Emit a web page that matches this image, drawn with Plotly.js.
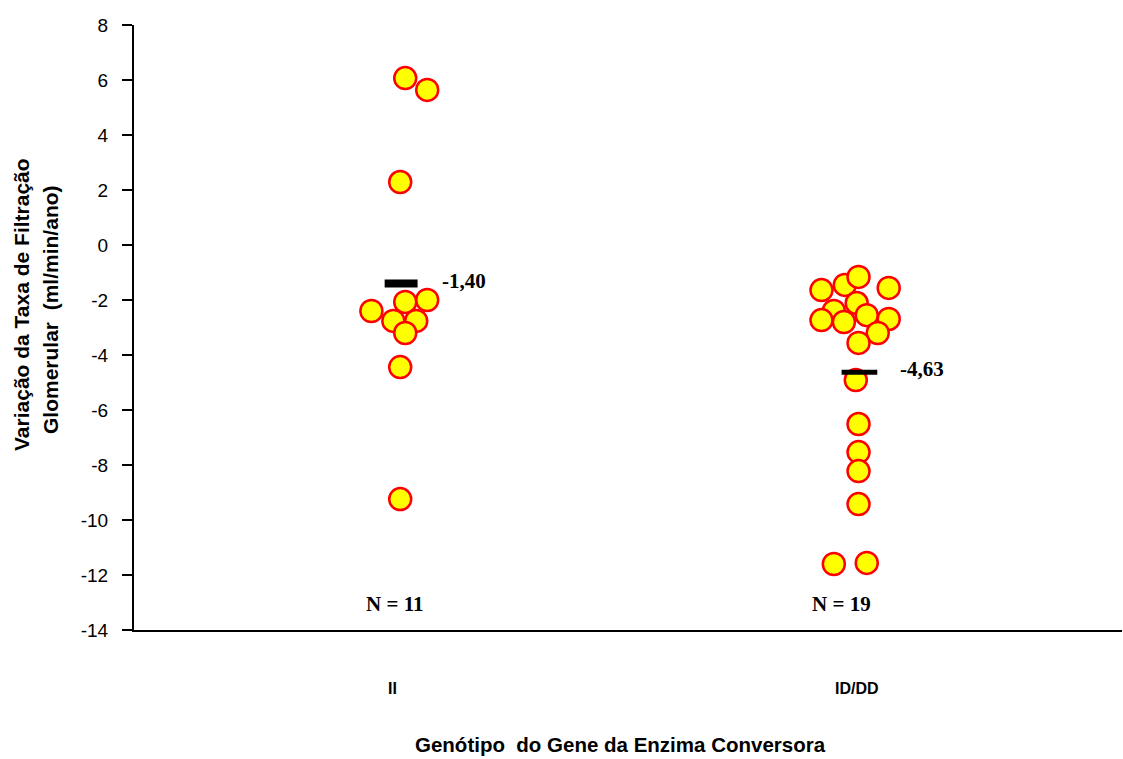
<!DOCTYPE html>
<html>
<head>
<meta charset="utf-8">
<script src="https://cdn.plot.ly/plotly-3.0.1.min.js"></script>
<style>html,body{margin:0;padding:0;background:#fff;}#chart{width:1123px;height:759px;}</style>
</head>
<body>
<div id="chart"></div>
<script>
const categories = ['II', 'ID/DD'];
const iiValues = [6.07, 5.64, 2.29, -2.40, -2.07, -2.00, -2.76, -2.76, -3.20, -4.44, -9.24];
const iiJitter = [0.013, 0.061, 0.002, -0.061, 0.013, 0.061, -0.013, 0.037, 0.013, 0.002, 0.002];
const idddValues = [-1.64, -1.45, -1.16, -1.56, -2.40, -2.11, -2.80, -2.55, -2.73, -2.69, -3.20, -3.56, -4.91, -6.51, -7.53, -8.22, -9.42, -11.60, -11.56];
const idddJitter = [-0.077, -0.026, 0.004, 0.070, -0.050, 0.000, -0.028, 0.022, -0.077, 0.070, 0.046, 0.004, -0.002, 0.004, 0.004, 0.004, 0.004, -0.050, 0.022];
const means = [-1.40, -4.63];
const meanLabels = ['-1,40', '-4,63'];
const nLabels = ['N = 11', 'N = 19'];
const yTicks = [8, 6, 4, 2, 0, -2, -4, -6, -8, -10, -12, -14];

const groups = [
  {values: iiValues, jitter: iiJitter},
  {values: idddValues, jitter: idddJitter}
];

const traces = [];
groups.forEach((g, i) => {
  traces.push({
    type: 'scatter', mode: 'markers',
    x: g.values.map((v, k) => (i + 1) + g.jitter[k]),
    y: g.values,
    marker: {size: 22, color: '#ffff00', line: {color: '#ff0000', width: 2.5}},
    hoverinfo: 'y', showlegend: false
  });
});
const barHalf = [0.036, 0.039];
const barShift = [0.004, 0.006];
const barWidth = [8, 5];
means.forEach((m, i) => {
  const c = i + 1 + barShift[i];
  traces.push({
    type: 'scatter', mode: 'lines',
    x: [c - barHalf[i], c + barHalf[i]],
    y: [m, m],
    line: {color: '#000', width: barWidth[i]},
    hoverinfo: 'skip', showlegend: false
  });
});

const serif = 'Liberation Serif, Times New Roman, serif';
const sans = 'Liberation Sans, Arial, sans-serif';
const annotations = [];
means.forEach((m, i) => {
  annotations.push({
    x: i + 1 + 0.09, y: m, xref: 'x', yref: 'y', text: '<b>' + meanLabels[i] + '</b>',
    showarrow: false, xanchor: 'left', yanchor: 'middle', yshift: 3,
    font: {family: serif, size: 21, color: '#000'}
  });
});
const nShift = [-5, -15];
nLabels.forEach((t, i) => {
  annotations.push({
    x: i + 1, y: -13.05, xref: 'x', yref: 'y', text: '<b>' + t + '</b>',
    showarrow: false, xanchor: 'center', yanchor: 'middle', xshift: nShift[i],
    font: {family: serif, size: 21, color: '#000'}
  });
});
const H = 759, T = 25, B = 129;
const ph = H - T - B;
function pyToPaper(py) { return (H - B - py) / ph; }
const catShift = [-7, 0];
categories.forEach((c, i) => {
  annotations.push({
    x: i + 1, y: pyToPaper(688), xref: 'x', yref: 'paper', text: '<b>' + c + '</b>',
    showarrow: false, xanchor: 'center', yanchor: 'middle', xshift: catShift[i],
    font: {family: sans, size: 16, color: '#000'}
  });
});
annotations.push({
  x: (620 - 134) / 988, y: pyToPaper(744), xref: 'paper', yref: 'paper',
  text: '<b>Genótipo  do Gene da Enzima Conversora</b>', showarrow: false,
  xanchor: 'center', yanchor: 'middle', font: {family: sans, size: 20.5, color: '#000'}
});
annotations.push({
  x: (21 - 134) / 988, y: pyToPaper(305), xref: 'paper', yref: 'paper',
  text: '<b>Variação da Taxa de Filtração</b>', showarrow: false, textangle: -90,
  xanchor: 'center', yanchor: 'middle', font: {family: sans, size: 21, color: '#000'}
});
annotations.push({
  x: (50 - 134) / 988, y: pyToPaper(310), xref: 'paper', yref: 'paper',
  text: '<b>Glomerular  (ml/min/ano)</b>', showarrow: false, textangle: -90,
  xanchor: 'center', yanchor: 'middle', font: {family: sans, size: 21, color: '#000'}
});

const layout = {
  width: 1123, height: 759,
  margin: {l: 134, r: 1, t: T, b: B, pad: 0},
  paper_bgcolor: '#fff', plot_bgcolor: '#fff',
  showlegend: false,
  xaxis: {
    range: [0.42, 2.58], showgrid: false, zeroline: false, showticklabels: false,
    ticks: '', showline: true, linecolor: '#000', linewidth: 2
  },
  yaxis: {
    range: [-14, 8], tickvals: yTicks, ticktext: yTicks.map(String),
    showgrid: false, zeroline: false, showline: true, linecolor: '#000', linewidth: 2,
    ticks: 'outside', ticklen: 10, tickwidth: 2, tickcolor: '#000',
    ticklabelstandoff: 10,
    tickfont: {family: sans, size: 19, color: '#000'}
  },
  annotations: annotations
};

Plotly.newPlot('chart', traces, layout, {displayModeBar: false, staticPlot: true});
</script>
</body>
</html>
